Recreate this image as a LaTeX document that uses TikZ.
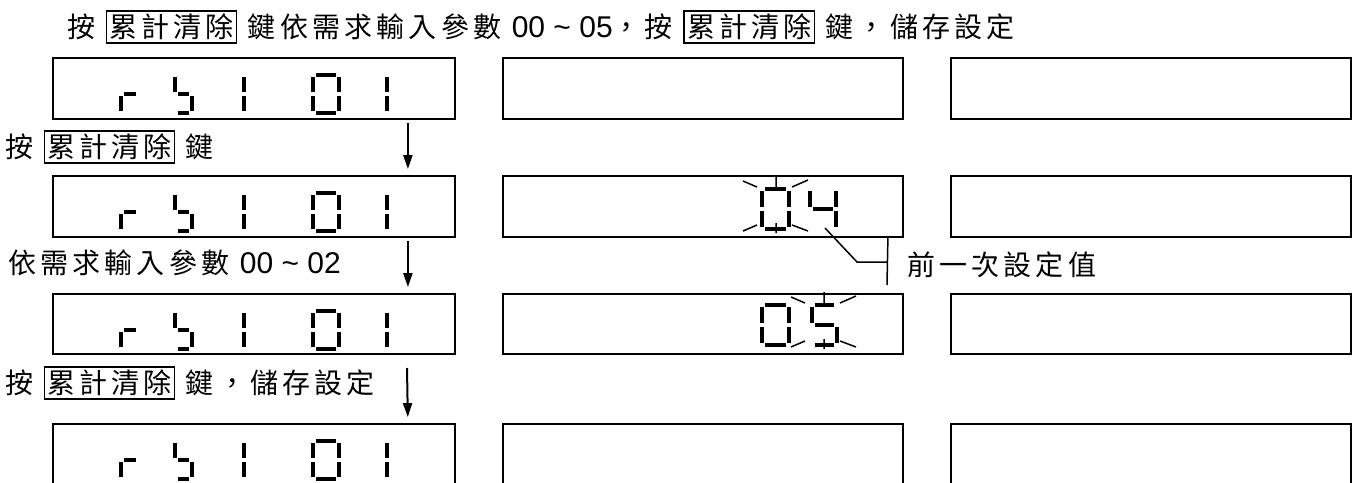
\documentclass[tikz,border=0pt]{standalone}
\usepackage{fontspec}
\usepackage{tikz}
\usetikzlibrary{arrows.meta}
\newfontfamily\cjk{Noto Sans CJK TC}[LetterSpace=15]
\newfontfamily\arial{Liberation Sans}
\newcommand{\tecla}[1]{{\setlength{\fboxsep}{2pt}\setlength{\fboxrule}{1.6pt}\fbox{#1}}}
\newcommand{\numero}[1]{{\arial\fontsize{30}{34}\selectfont #1}}
% segmentos do visor: x, y (canto superior esquerdo), largura, altura, lista
\newcommand{\lcd}[5]{%
  \begin{scope}[shift={(#1,#2)}]
    \def\lw{#3}\def\lh{#4}
    \pgfkeys{/lcd/.cd,#5}
  \end{scope}}
% marcas de piscar: centro x, topo y, altura
\newcommand{\piscar}[3]{%
  \draw[pisca] (#1,#2-11) -- (#1,#2+2)
    (#1,#2+#3-8) -- (#1,#2+#3+2)
    (#1-33,#2-6) -- (#1-19,#2)
    (#1+16,#2) -- (#1+32,#2-7)
    (#1-33,#2+#3) -- (#1-19,#2+#3-6)
    (#1+16,#2+#3-6) -- (#1+32,#2+#3);}
\tikzset{
  painel/.style={draw, line width=1.8pt, minimum width=400pt, minimum height=61pt, inner sep=0pt},
  rotulo/.style={anchor=west, inner sep=0pt, font=\cjk\fontsize{28}{32}\selectfont},
  seta/.style={-{Triangle[length=14pt,width=9pt]}, line width=2pt, shorten <=3pt, shorten >=6pt},
  segmento/.style={line width=4pt},
  pisca/.style={line width=1.5pt},
  guia/.style={line width=1.5pt},
}
\pgfkeys{/lcd/.cd,
  a/.code={\draw[segmento] (5,2) -- (\lw-5,2);},
  b/.code={\draw[segmento] (\lw-2,4) -- (\lw-2,\lh/2-2);},
  c/.code={\draw[segmento] (\lw-2,\lh/2+2) -- (\lw-2,\lh-4);},
  d/.code={\draw[segmento] (5,\lh-2) -- (\lw-5,\lh-2);},
  e/.code={\draw[segmento] (2,\lh/2+2) -- (2,\lh-4);},
  f/.code={\draw[segmento] (2,4) -- (2,\lh/2-2);},
  g/.code={\draw[segmento] (5,\lh/2) -- (\lw-5,\lh/2);},
}
\begin{document}
\begin{tikzpicture}[x=1pt, y=-1pt]
  \path[use as bounding box, clip] (0,0) rectangle (1354,482);

  % visores
  \node[painel, minimum width=402pt] (t11) at (254,88.5) {};
  \node[painel] (t12) at (703,88.5) {};
  \node[painel] (t13) at (1151,88.5) {};
  \node[painel, minimum width=402pt] (t21) at (254,206.5) {};
  \node[painel] (t22) at (703,206.5) {};
  \node[painel] (t23) at (1151,206.5) {};
  \node[painel, minimum width=402pt, minimum height=60pt] (t31) at (254,324) {};
  \node[painel, minimum height=60pt] (t32) at (703,324) {};
  \node[painel, minimum height=60pt] (t33) at (1151,324) {};
  \node[painel, minimum width=402pt] (t41) at (254,454.5) {};
  \node[painel] (t42) at (703,454.5) {};
  \node[painel] (t43) at (1151,454.5) {};

  % rb101 na primeira coluna
  \foreach \y in {73,191,309,439} {
    \lcd{119}{\y}{22}{42}{e,g}
    \lcd{173}{\y}{21}{42}{f,g,c,d}
    \lcd{242}{\y}{4}{42}{b,c}
    \lcd{311}{\y}{30}{42}{a,b,c,d,e,f}
    \lcd{385}{\y}{4}{42}{b,c}
  }

  % valores na segunda coluna
  \lcd{760}{187}{31}{44}{a,b,c,d,e,f}
  \lcd{808}{187}{30}{44}{f,g,b,c}
  \piscar{776}{187}{44}
  \lcd{760}{303}{31}{44}{a,b,c,d,e,f}
  \lcd{810}{303}{29}{44}{a,f,g,c,d}
  \piscar{824}{303}{44}

  % textos
  \node[rotulo] (topo) at (67,27) {按 \tecla{累計清除} 鍵依需求輸入參數 \numero{00 \textasciitilde\ 05}，按 \tecla{累計清除} 鍵，儲存設定};
  \node[rotulo] (passo1) at (5,147) {按 \tecla{累計清除} 鍵};
  \node[rotulo] (passo2) at (8,263) {依需求輸入參數 \numero{00 \textasciitilde\ 02}};
  \node[rotulo] (passo3) at (5,383) {按 \tecla{累計清除} 鍵，儲存設定};
  \node[rotulo] (nota) at (907,265) {前一次設定值};

  % setas
  \coordinate (s3) at (407,368);
  \draw[seta] ([xshift=-48pt]t11.south east) -- ([xshift=-48pt]t21.north east);
  \draw[seta] ([xshift=-48pt]t21.south east) -- ([xshift=-48pt]t31.north east);
  \draw[seta, shorten <=0pt] (s3) -- ([xshift=-48pt]t41.north east);

  % indicação do valor anterior
  \coordinate (g1) at (825,228);
  \coordinate (g2) at (857,262);
  \coordinate (g3) at (887,262);
  \coordinate (g4) at (887,285);
  \draw[guia] (g1) -- (g2) -- (g3);
  \draw[guia] ([xshift=-16pt]t22.south east) -- (g4);
\end{tikzpicture}
\end{document}
